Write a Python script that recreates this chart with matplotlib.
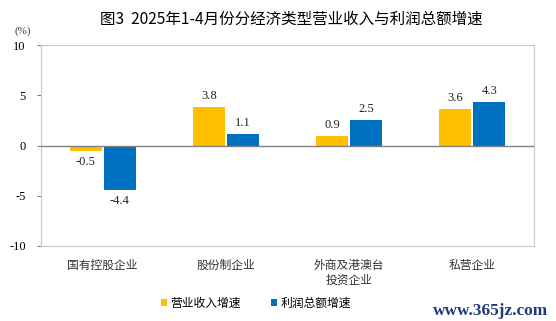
import matplotlib
matplotlib.use("Agg")
import matplotlib.pyplot as plt
import numpy as np

categories = ["国有控股企业", "股份制企业", "外商及港澳台\n投资企业", "私营企业"]
revenue = [-0.5, 3.8, 0.9, 3.6]
profit = [-4.4, 1.1, 2.5, 4.3]
series_names = ["营业收入增速", "利润总额增速"]
yticks = [-10, -5, 0, 5, 10]

fam = ["Liberation Serif", "Noto Sans CJK SC", "DejaVu Sans"]
cjk = ["Noto Sans CJK SC", "DejaVu Sans"]

fig = plt.figure(figsize=(5.56, 3.21), dpi=100)
L, R, T, B = 41, 534, 45, 246
ax = fig.add_axes([L/556, 1-B/321, (R-L)/556, (B-T)/321])

x = np.arange(len(categories))
w = 0.26
gap = 0.008
c1, c2 = "#FFC000", "#0070C0"
b1 = ax.bar(x - w/2 - gap, revenue, w, color=c1, label=series_names[0], zorder=2)
b2 = ax.bar(x + w/2 + gap, profit, w, color=c2, label=series_names[1], zorder=2)

for bars, vals in ((b1, revenue), (b2, profit)):
    for r, v in zip(bars, vals):
        xc = r.get_x() + r.get_width()/2
        if v >= 0:
            ax.annotate(f"{v:.1f}", (xc, v), xytext=(0, 4), textcoords="offset points",
                        ha="center", va="bottom", fontsize=9, family=fam, color="#222222")
        else:
            ax.annotate(f"{v:.1f}", (xc, v), xytext=(0, -4), textcoords="offset points",
                        ha="center", va="top", fontsize=9, family=fam, color="#222222")

ax.set_xlim(-0.5, 3.5)
ax.set_ylim(-10, 10)
ax.set_yticks(yticks)
ax.set_yticklabels([str(t) for t in yticks], family=fam, fontsize=9)
ax.axhline(0, color="#808080", lw=1, zorder=3)
ax.set_xticks(x)
ax.set_xticklabels(categories, family=cjk, fontsize=8.5, color="#333333", linespacing=1.25)
ax.tick_params(axis="x", length=0, pad=9)
ax.tick_params(axis="y", length=3, color="#808080", pad=8, direction="out")
for s in ax.spines.values():
    s.set_color("#C8C8C8")
    s.set_linewidth(0.8)

fig.text(23/556, 1-31/321, "(%)", fontsize=8, family=fam, ha="center", va="center", color="#333333")
fig.text(291/556, 1-19/321, "图3  2025年1-4月份分经济类型营业收入与利润总额增速", fontsize=11.2,
         family=cjk, ha="center", va="center")

leg = fig.legend(handles=[b1, b2], labels=series_names, loc="center", bbox_to_anchor=(256/556, 1-303/321),
                 ncol=2, frameon=False, prop={"family": cjk, "size": 8.5},
                 handlelength=0.5, handleheight=0.5, handletextpad=0.3, columnspacing=2.5)

fig.text(548/556, 1-311/321, "www.365jz.com", fontsize=12.4, family=["Liberation Serif"], fontweight="bold",
         color="#1F3A7A", ha="right", va="center")

fig.savefig("out.png", dpi=100)
